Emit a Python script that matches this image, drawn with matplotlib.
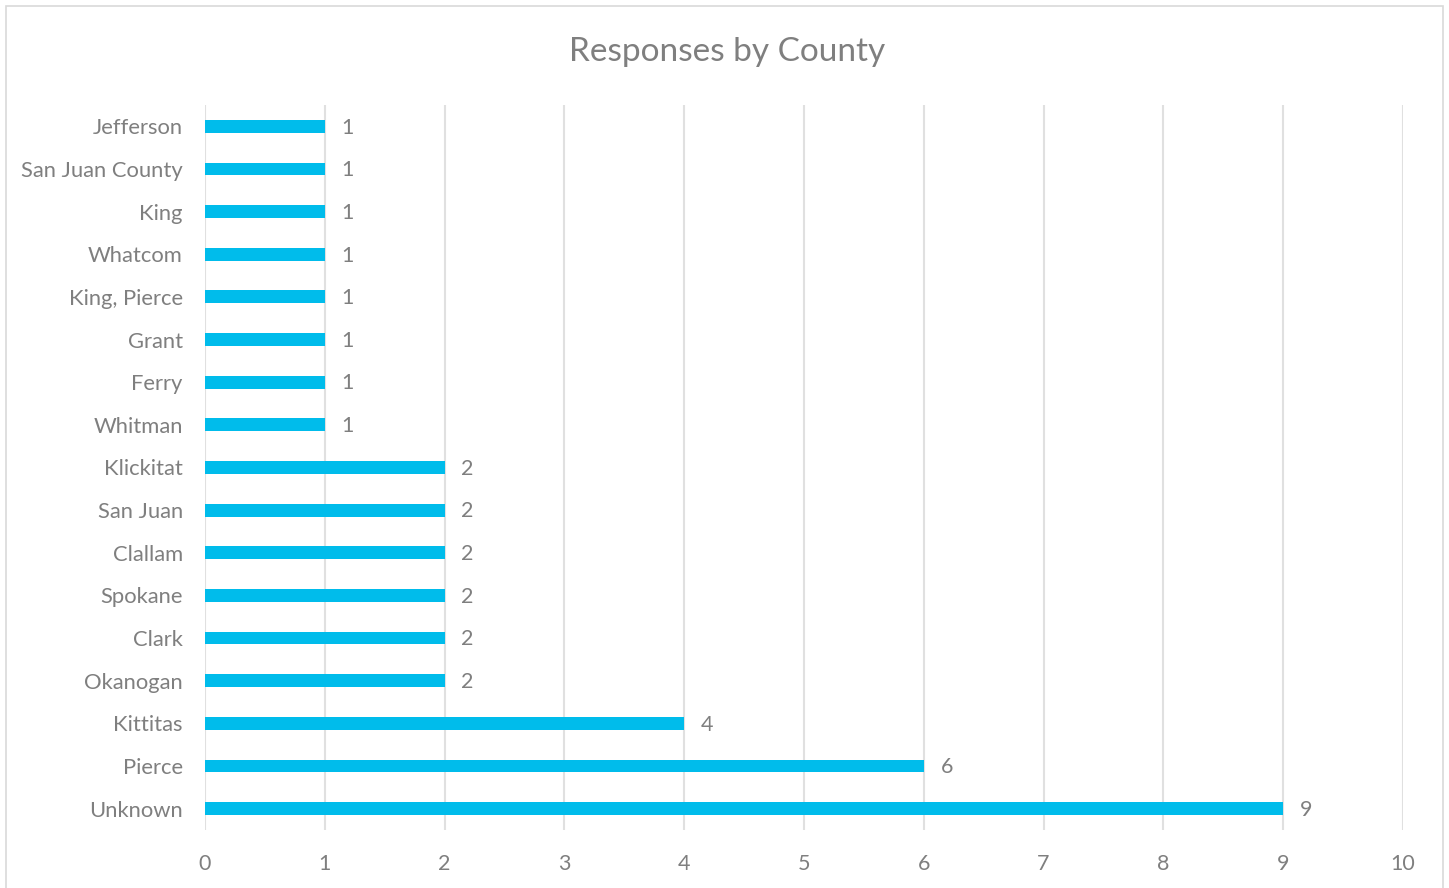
import matplotlib.pyplot as plt
from matplotlib.patches import Rectangle

counties = ['Unknown', 'Pierce', 'Kittitas', 'Okanogan', 'Clark', 'Spokane',
            'Clallam', 'San Juan', 'Klickitat', 'Whitman', 'Ferry', 'Grant',
            'King, Pierce', 'Whatcom', 'King', 'San Juan County', 'Jefferson']
responses = [9, 6, 4, 2, 2, 2, 2, 2, 2, 1, 1, 1, 1, 1, 1, 1, 1]
xticks = list(range(0, 11))

plt.rcParams['font.family'] = ['Lato', 'DejaVu Sans']
grey = '#7f7f7f'

fig = plt.figure(figsize=(14.49, 8.88), dpi=100)
ax = fig.add_axes([0.1415, 0.0653, 0.8267, 0.8165])

fig.patches.append(Rectangle((0.004, -0.01), 0.992, 1.003, transform=fig.transFigure,
                             fill=False, edgecolor='#d9d9d9', linewidth=1.2))

ypos = range(len(counties))
ax.barh(ypos, responses, height=0.3, color='#00bceb', zorder=3)
for y, v in zip(ypos, responses):
    ax.text(v + 0.14, y - 0.03, str(v), va='center', ha='left', fontsize=15.5, color=grey)

ax.set_xlim(0, 10)
ax.set_ylim(-0.5, len(counties) - 0.5)
ax.set_xticks(xticks)
ax.set_yticks(list(ypos))
ax.set_yticklabels(counties, fontsize=15.8)
ax.xaxis.grid(True, color='#e0e0e0', linewidth=1.5, zorder=0)
ax.tick_params(axis='both', length=0, labelcolor=grey)
ax.tick_params(axis='x', pad=17, labelsize=15.5)
ax.tick_params(axis='y', pad=16)
for s in ax.spines.values():
    s.set_visible(False)

fig.text(0.5015, 0.942, 'Responses by County', ha='center', va='center',
         fontsize=24, color=grey)

fig.savefig('out.png', dpi=100)
